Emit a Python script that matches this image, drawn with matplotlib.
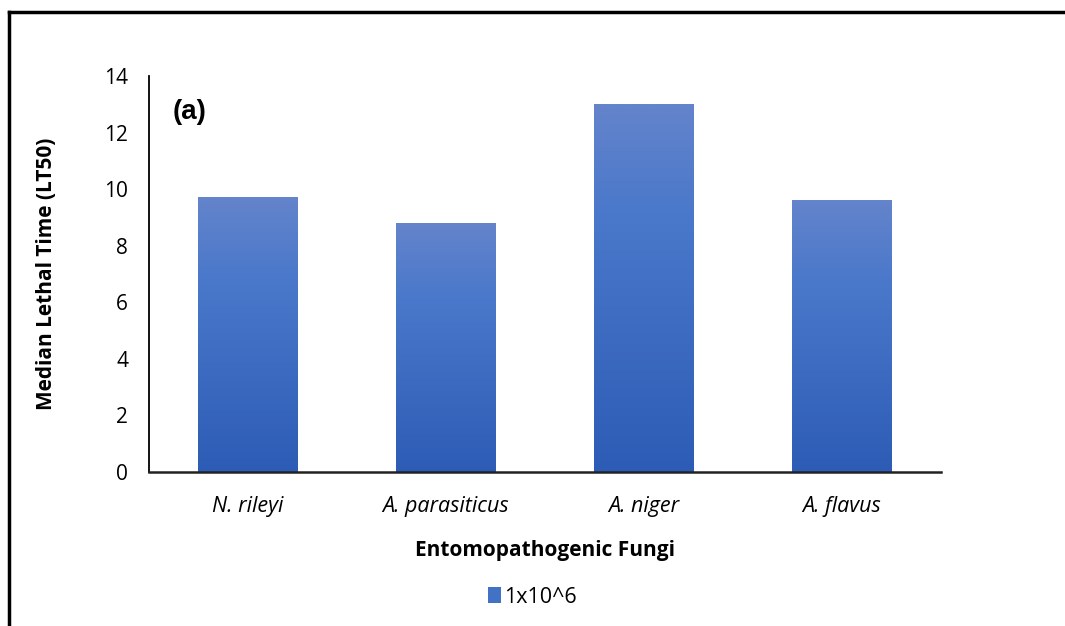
import numpy as np
import matplotlib
matplotlib.use("Agg")
import matplotlib.pyplot as plt
from matplotlib.colors import LinearSegmentedColormap
from matplotlib.patches import Patch
from matplotlib.lines import Line2D

# Datos
fungi = ["N. rileyi", "A. parasiticus", "A. niger", "A. flavus"]
lt50 = [9.72, 8.77, 13.0, 9.61]
serie = "1x10^6"

plt.rcParams['font.family'] = ['Open Sans', 'DejaVu Sans']

fig = plt.figure(figsize=(10.65, 6.26), dpi=100)
ax = fig.add_axes([0.1399, 0.246, 0.7437, 0.6326])

# degradado tipo Excel (arriba claro, abajo oscuro)
grad_cmap = LinearSegmentedColormap.from_list(
    "grad", [(0.0, "#6484cc"), (0.3, "#4a78ca"), (1.0, "#2d5cb6")])
grad = grad_cmap(np.linspace(0, 1, 256))[:, None, :]

x = np.arange(len(fungi))
bars = ax.bar(x, lt50, width=0.505, color="none", edgecolor="none")
for b in bars:
    bx, by = b.get_x(), b.get_y()
    ax.imshow(grad, extent=[bx, bx + b.get_width(), by, by + b.get_height()],
              aspect="auto", zorder=2, interpolation="bilinear")

ax.set_xlim(-0.5, 3.5)
ax.set_ylim(0, 14)
ax.set_yticks(range(0, 15, 2))
ax.set_xticks(x)
ax.set_xticklabels(fungi, fontstyle="italic", fontsize=15.5)
ax.tick_params(axis="y", length=0, pad=15, labelsize=15)
ax.tick_params(axis="x", length=0, pad=17)

for s in ["top", "right"]:
    ax.spines[s].set_visible(False)
ax.spines["left"].set_linewidth(1.3)
ax.spines["bottom"].set_linewidth(1.8)
ax.spines["bottom"].set_color("#222222")

ax.set_xlabel("Entomopathogenic Fungi", fontsize=15, fontweight="bold")
ax.set_ylabel("Median Lethal Time (LT50)", fontsize=15, fontweight="bold")
ax.xaxis.set_label_coords(0.5, -0.197)
ax.xaxis.label.set_va("center")
ax.yaxis.set_label_coords(-0.130, 0.5)
ax.yaxis.label.set_va("center")

ax.text(-0.293, 12.71, "(a)", fontsize=20, fontweight="bold",
        family="Liberation Sans", ha="center", va="center")

fig.legend(handles=[Patch(facecolor="#4272c6", label=serie)],
           loc="center", bbox_to_anchor=(0.5, 0.046), frameon=False,
           fontsize=15.5, handlelength=0.6, handleheight=0.75, handletextpad=0.15)

# borde de la figura (solo izquierda y arriba)
fig.add_artist(Line2D([0.0089, 0.0089], [0, 0.981], color="black", lw=2.5,
                      transform=fig.transFigure))
fig.add_artist(Line2D([0.0089, 1.0], [0.981, 0.981], color="black", lw=2.5,
                      transform=fig.transFigure))

fig.savefig("out.png", dpi=100)
